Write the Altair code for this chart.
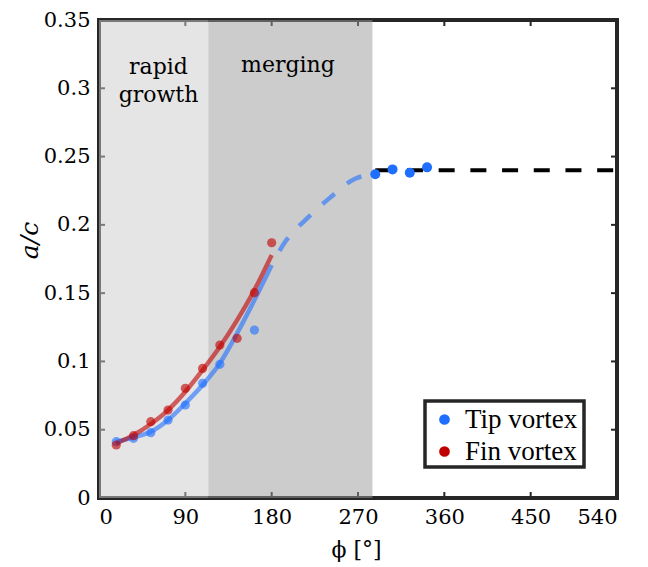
import altair as alt
import pandas as pd

# ---- data ----
phi_pts = [18, 36, 54, 72, 90, 108, 126, 162]
tip_ac = [0.0412, 0.0437, 0.0478, 0.0571, 0.0681, 0.0840, 0.0979, 0.1230]
fin_phi = [18, 36, 54, 72, 90, 108, 126, 144, 162, 180]
fin_ac = [0.0388, 0.0456, 0.0559, 0.0644, 0.0803, 0.0949, 0.1120, 0.1169, 0.1503, 0.1869]
tip_far_phi = [288, 306, 324, 342]
tip_far_ac = [0.2370, 0.2406, 0.2381, 0.2421]

fit_phi = [18, 36, 54, 72, 90, 108, 126, 144, 162, 180]
tip_fit = [0.0412, 0.0444, 0.0485, 0.0571, 0.0693, 0.0827, 0.0986, 0.1206, 0.1449, 0.1706]
fin_fit = [0.0400, 0.0461, 0.0542, 0.0644, 0.0778, 0.0937, 0.1108, 0.1303, 0.1523, 0.1779]
trans_phi = [180, 195, 215, 240, 267, 288]
trans_ac = [0.1706, 0.1885, 0.2035, 0.2194, 0.2338, 0.2370]
plateau_phi = [288, 540]
plateau_ac = [0.240, 0.240]

region_names = ["rapid growth", "merging"]
region_start = [0, 114]
region_end = [114, 285]

note_text = ["rapid", "growth", "merging"]
note_phi = [62, 62, 197]
note_ac = [0.3157, 0.2950, 0.3170]

x_ticks = [0, 90, 180, 270, 360, 450, 540]
y_ticks = [0, 0.05, 0.1, 0.15, 0.2, 0.25, 0.3, 0.35]

series_names = ["Tip vortex", "Fin vortex"]

# ---- tables ----
pts = pd.DataFrame({
    "phi": phi_pts + fin_phi,
    "ac": tip_ac + fin_ac,
    "series": [series_names[0]] * len(phi_pts) + [series_names[1]] * len(fin_phi),
})
far = pd.DataFrame({"phi": tip_far_phi, "ac": tip_far_ac})
tipfit = pd.DataFrame({"phi": fit_phi, "ac": tip_fit})
finfit = pd.DataFrame({"phi": fit_phi, "ac": fin_fit})
trans = pd.DataFrame({"phi": trans_phi, "ac": trans_ac})
plateau = pd.DataFrame({"phi": plateau_phi, "ac": plateau_ac})
regions = pd.DataFrame({"name": region_names, "s": region_start, "e": region_end})
notes = pd.DataFrame({"t": note_text, "phi": note_phi, "ac": note_ac})
xt = pd.DataFrame({"v": x_ticks})
yt = pd.DataFrame({"v": y_ticks})

W, H = 518, 478
FONT = "DejaVu Serif"
LEG_FONT = "serif"
XSC = alt.Scale(domain=[0, 540], nice=False, zero=False)
YSC = alt.Scale(domain=[0, 0.35], nice=False, zero=False)

x_axis = alt.Axis(values=x_ticks, title="ϕ [°]", titleX=257, titleY=51,
                  titleAlign="center", titleBaseline="middle", labelPadding=8,
                  labelFont=FONT, titleFont=FONT, labelFontSize=21, titleFontSize=22)
y_axis = alt.Axis(values=y_ticks, format="~g", title="a/c", titleX=-70, titleY=220,
                  titleAngle=270, titleAlign="center", titleBaseline="middle",
                  titleFontStyle="italic", labelPadding=9,
                  labelFont=FONT, titleFont=FONT, labelFontSize=21, titleFontSize=25)


def X(f):
    return alt.X(f"{f}:Q", scale=XSC, axis=x_axis, title="ϕ [°]")


def Y(f):
    return alt.Y(f"{f}:Q", scale=YSC, axis=y_axis, title="a/c")


TICK = "#262626"
tick_bottom = alt.Chart(xt).mark_rule(color=TICK, strokeWidth=2).encode(
    x=X("v"), y=alt.value(H), y2=alt.value(H - 6))
tick_top = alt.Chart(xt).mark_rule(color=TICK, strokeWidth=2).encode(
    x=X("v"), y=alt.value(0), y2=alt.value(6))
tick_left = alt.Chart(yt).mark_rule(color=TICK, strokeWidth=2).encode(
    y=Y("v"), x=alt.value(0), x2=alt.value(6))
tick_right = alt.Chart(yt).mark_rule(color=TICK, strokeWidth=2).encode(
    y=Y("v"), x=alt.value(W), x2=alt.value(W - 6))

rect_light = alt.Chart(regions).transform_filter(
    alt.datum.name == region_names[0]).mark_rect(color="#cccccc", opacity=0.5).encode(
    x=X("s"), x2="e:Q", y=alt.value(0), y2=alt.value(H))
rect_dark = alt.Chart(regions).transform_filter(
    alt.datum.name == region_names[1]).mark_rect(color="#999999", opacity=0.5).encode(
    x=X("s"), x2="e:Q", y=alt.value(0), y2=alt.value(H))

BLUE = "#1f6fff"
RED = "#c00000"

tip_line = alt.Chart(tipfit).mark_line(color=BLUE, strokeWidth=4.5, opacity=0.6,
                                       interpolate="monotone").encode(x=X("phi"), y=Y("ac"))
fin_line = alt.Chart(finfit).mark_line(color=RED, strokeWidth=4.5, opacity=0.6,
                                       interpolate="monotone").encode(x=X("phi"), y=Y("ac"))
trans_line = alt.Chart(trans).mark_line(color=BLUE, strokeWidth=4.5, opacity=0.6,
                                        interpolate="monotone", strokeDash=[16, 16],
                                        strokeDashOffset=16).encode(x=X("phi"), y=Y("ac"))
plateau_line = alt.Chart(plateau).mark_line(color="black", strokeWidth=4,
                                            strokeDash=[16, 15.7]).encode(x=X("phi"), y=Y("ac"))

legend_frame = alt.Chart(xt).transform_filter(alt.datum.v == 0).mark_rect(
    fill="white", stroke="#262626", strokeWidth=3.5).encode(
    x=alt.value(326), x2=alt.value(485), y=alt.value(381), y2=alt.value(447))

legend = alt.Legend(orient="none", legendX=324, legendY=382, title=None,
                    labelFont=LEG_FONT, labelFontSize=27, labelColor="black",
                    symbolType="circle", symbolSize=115, symbolOpacity=1,
                    symbolStrokeWidth=0, padding=4, rowPadding=4, symbolOffset=4,
                    labelOffset=7)
pts_layer = alt.Chart(pts).mark_circle(size=85, opacity=0.62).encode(
    x=X("phi"), y=Y("ac"),
    color=alt.Color("series:N", scale=alt.Scale(domain=series_names, range=[BLUE, RED]),
                    legend=legend, sort=series_names),
    order=alt.Order("series:N", sort="descending"),
)
far_layer = alt.Chart(far).mark_circle(size=100, opacity=1, color=BLUE).encode(
    x=X("phi"), y=Y("ac"))
note_layer = alt.Chart(notes).mark_text(font=FONT, fontSize=22, color="black",
                                        baseline="middle", align="center").encode(
    x=X("phi"), y=Y("ac"), text="t:N")

chart = alt.layer(
    tick_bottom, tick_top, tick_left, tick_right,
    rect_light, rect_dark,
    tip_line, fin_line, trans_line, pts_layer,
    plateau_line, far_layer, note_layer, legend_frame,
).properties(
    width=W, height=H,
    autosize=alt.AutoSizeParams(type="none"),
    padding={"left": 91, "top": 12, "right": 20, "bottom": 70},
).configure_view(
    stroke="#262626", strokeWidth=4
).configure_axis(
    grid=False, ticks=False, tickSize=0, domain=False,
    labelColor="black", titleColor="black", titleFontWeight="normal",
)

chart.save("out.html", embed_options={"renderer": "svg", "actions": False})
